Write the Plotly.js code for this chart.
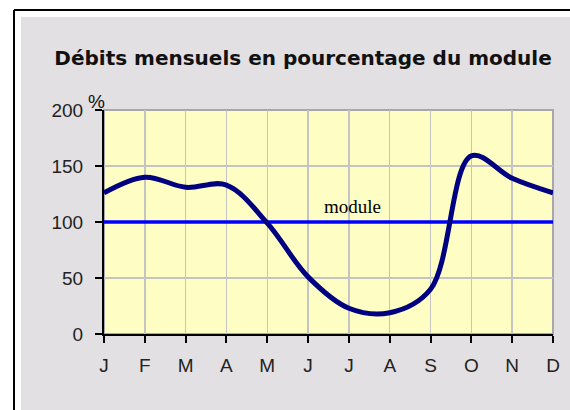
<!DOCTYPE html>
<html>
<head>
<meta charset="utf-8">
<script src="https://cdn.plot.ly/plotly-3.0.1.min.js"></script>
<style>
  html, body { margin: 0; padding: 0; background: #ffffff; }
  #chart { width: 570px; height: 410px; }
</style>
</head>
<body>
<div id="chart"></div>
<script>
// ---- data ----
const monthIndex = [0, 1, 2, 3, 4, 5, 6, 7, 8, 9, 10, 11];
const monthLabels = ["J", "F", "M", "A", "M", "J", "J", "A", "S", "O", "N", "D"];
const debitsPct = [126, 140, 131, 133, 99, 51, 23, 19, 40, 159, 139, 126];
const moduleValue = 100;
const moduleLabel = "module";
const titleText = "Débits mensuels en pourcentage du module";
const yTickVals = [0, 50, 100, 150, 200];
const yUnit = "%";

// ---- styles ----
const gray = "#e2e0e3";
const yellow = "#fdfdc4";

const traces = [
  {
    x: [monthIndex[0], monthIndex[monthIndex.length - 1]],
    y: [moduleValue, moduleValue],
    type: "scatter",
    mode: "lines",
    line: { color: "#0000ff", width: 3.5 },
    hoverinfo: "skip",
    showlegend: false
  },
  {
    x: monthIndex,
    y: debitsPct,
    type: "scatter",
    mode: "lines",
    line: { color: "#000080", width: 5, shape: "spline", smoothing: 1 },
    showlegend: false
  }
];

const layout = {
  width: 570,
  height: 410,
  margin: { l: 104, r: 17, t: 110, b: 76, pad: 0 },
  paper_bgcolor: "#ffffff",
  plot_bgcolor: yellow,
  showlegend: false,
  title: {
    text: "<b>" + titleText + "</b>",
    font: { family: "DejaVu Sans", size: 20, color: "#111111" },
    xref: "container", yref: "container",
    x: 303 / 570, xanchor: "center",
    y: 1 - 58 / 410, yanchor: "middle"
  },
  xaxis: {
    range: [0, 11],
    tickvals: monthIndex,
    ticktext: monthLabels,
    showgrid: true,
    gridcolor: "#c4c4c4",
    gridwidth: 1.5,
    zeroline: false,
    showline: true,
    linecolor: "#000000",
    linewidth: 2,
    ticks: "outside",
    ticklen: 7,
    tickwidth: 2,
    tickcolor: "#000000",
    ticklabelstandoff: 6,
    tickfont: { family: "Liberation Sans, Arial, sans-serif", size: 19, color: "#222222" },
    fixedrange: true
  },
  yaxis: {
    range: [0, 200],
    tickvals: yTickVals,
    showgrid: true,
    gridcolor: "#c4c4c4",
    gridwidth: 1.5,
    zeroline: false,
    showline: true,
    linecolor: "#000000",
    linewidth: 2,
    ticks: "outside",
    ticklen: 7,
    tickwidth: 2,
    tickcolor: "#000000",
    ticklabelstandoff: 8,
    tickfont: { family: "Liberation Sans, Arial, sans-serif", size: 19, color: "#222222" },
    fixedrange: true
  },
  shapes: [
    // gray panel
    { type: "rect", xref: "paper", yref: "paper", layer: "below",
      x0: (21 - 104) / 449, x1: (575 - 104) / 449,
      y0: (334 - 415) / 224, y1: (334 - 17) / 224,
      fillcolor: gray, line: { width: 0 } },
    // yellow plot area
    { type: "rect", xref: "paper", yref: "paper", layer: "below",
      x0: 0, x1: 1, y0: 0, y1: 1,
      fillcolor: yellow, line: { color: "#a8a8a8", width: 2 } },
    // black frame lines (left and top)
    { type: "line", xref: "paper", yref: "paper", layer: "above",
      x0: (14 - 104) / 449, x1: (14 - 104) / 449,
      y0: (334 - 10) / 224, y1: (334 - 415) / 224,
      line: { color: "#000000", width: 2 } },
    { type: "line", xref: "paper", yref: "paper", layer: "above",
      x0: (14 - 104) / 449, x1: (575 - 104) / 449,
      y0: (334 - 10) / 224, y1: (334 - 10) / 224,
      line: { color: "#000000", width: 2 } }
  ],
  annotations: [
    { text: moduleLabel, xref: "x", yref: "y",
      x: 6.1, y: moduleValue + 3, xanchor: "center", yanchor: "bottom",
      showarrow: false,
      font: { family: "Liberation Serif, Times New Roman, serif", size: 19, color: "#000000" } },
    { text: yUnit, xref: "paper", yref: "paper",
      x: (96 - 104) / 449, y: (334 - 101) / 224, xanchor: "center", yanchor: "middle",
      showarrow: false,
      font: { family: "Liberation Sans, Arial, sans-serif", size: 19, color: "#111111" } }
  ]
};

Plotly.newPlot("chart", traces, layout, { displayModeBar: false, staticPlot: true });
</script>
</body>
</html>
